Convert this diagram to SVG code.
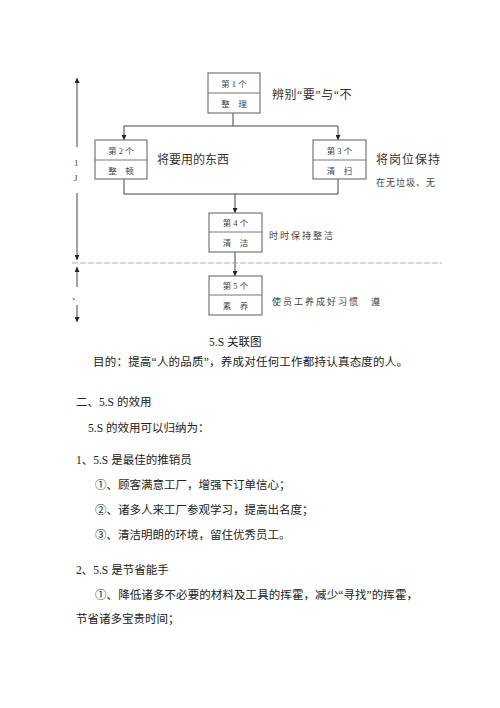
<svg xmlns="http://www.w3.org/2000/svg" width="500" height="708" viewBox="0 0 500 708">
<style>
.box{fill:#fff;stroke:#777;stroke-width:1.2}
.div{stroke:#777;stroke-width:1}
.ln{stroke:#444;stroke-width:1;fill:none}
.bt{font-family:"Liberation Serif","Noto Sans CJK SC",serif;font-size:8.5px;fill:#444;text-anchor:middle}
.lb{font-family:"Liberation Serif","Noto Sans CJK SC",serif;font-size:12px;fill:#333}
.sm{font-family:"Liberation Serif","Noto Sans CJK SC",serif;font-size:9px;fill:#444}
.tx{font-family:"Liberation Serif","Noto Sans CJK SC",serif;font-size:11.5px;fill:#222}
</style>
<defs>
<marker id="ah" viewBox="0 0 10 10" refX="10" refY="5" markerWidth="5" markerHeight="5" orient="auto" markerUnits="userSpaceOnUse">
<path d="M0,0 L10,5 L0,10 z" fill="#222"/>
</marker>
</defs>
<rect width="500" height="708" fill="#fff"/>
<g id="connectors">
<path class="ln" d="M233,113 V126 M124,126 H338"/>
<path class="ln" d="M124,126 V140" marker-end="url(#ah)"/>
<path class="ln" d="M338,126 V140" marker-end="url(#ah)"/>
<path class="ln" d="M124,179 V194 H338 V179"/>
<path class="ln" d="M235,194 V213" marker-end="url(#ah)"/>
<path class="ln" d="M235,252 V276" marker-end="url(#ah)"/>
<path class="ln" d="M77,147 V78" marker-end="url(#ah)"/>
<path class="ln" d="M77,193 V260" marker-end="url(#ah)"/>
<path class="ln" d="M77,287 V267" marker-end="url(#ah)"/>
<path class="ln" d="M77,305 V322" marker-end="url(#ah)"/>
<line x1="72" y1="263" x2="442" y2="263" stroke="#999" stroke-width="0.8" stroke-dasharray="6,2"/>
</g>
<g id="axis-labels">
<text class="sm" x="74" y="166">1</text>
<text class="sm" x="74" y="181">J</text>
<text class="sm" x="72" y="300">、</text>
</g>
<g id="node1">
<rect class="box" x="208" y="73" width="52" height="40"/>
<line class="div" x1="208" y1="93" x2="260" y2="93"/>
<text class="bt" x="234" y="87">第 1 个</text>
<text class="bt" x="234" y="107">整　理</text>
<text class="lb" x="272" y="99" letter-spacing="0.5">辨别“要”与“不</text>
</g>
<g id="node2">
<rect class="box" x="95" y="140" width="52" height="39"/>
<line class="div" x1="95" y1="160" x2="147" y2="160"/>
<text class="bt" x="121" y="154">第 2 个</text>
<text class="bt" x="121" y="174">整　顿</text>
<text class="lb" x="157" y="164">将要用的东西</text>
</g>
<g id="node3">
<rect class="box" x="313" y="140" width="53" height="39"/>
<line class="div" x1="313" y1="160" x2="366" y2="160"/>
<text class="bt" x="339.5" y="154">第 3 个</text>
<text class="bt" x="339.5" y="174">清　扫</text>
<text class="lb" x="376" y="164" letter-spacing="1">将岗位保持</text>
<text class="sm" x="376" y="186" letter-spacing="1">在无垃圾、无</text>
</g>
<g id="node4">
<rect class="box" x="209" y="213" width="53" height="39"/>
<line class="div" x1="209" y1="232" x2="262" y2="232"/>
<text class="bt" x="235.5" y="226">第 4 个</text>
<text class="bt" x="235.5" y="246">清　洁</text>
<text class="sm" x="269" y="239" letter-spacing="2">时时保持整洁</text>
</g>
<g id="node5">
<rect class="box" x="209" y="276" width="53" height="39"/>
<line class="div" x1="209" y1="295" x2="262" y2="295"/>
<text class="bt" x="235.5" y="289">第 5 个</text>
<text class="bt" x="235.5" y="309">素　养</text>
<text class="sm" x="272" y="305" letter-spacing="2">使员工养成好习惯　遵</text>
</g>
<g id="body">
<text class="tx" x="209" y="346">5.S 关联图</text>
<text class="tx" x="93" y="366" textLength="315">目的：提高“人的品质”，养成对任何工作都持认真态度的人。</text>
<text class="tx" x="76" y="406">二、5.S 的效用</text>
<text class="tx" x="88" y="432">5.S 的效用可以归纳为：</text>
<text class="tx" x="76" y="464">1、5.S 是最佳的推销员</text>
<text class="tx" x="95" y="489">①、顾客满意工厂，增强下订单信心；</text>
<text class="tx" x="95" y="514">②、诸多人来工厂参观学习，提高出名度；</text>
<text class="tx" x="95" y="539">③、清洁明朗的环境，留住优秀员工。</text>
<text class="tx" x="76" y="574">2、5.S 是节省能手</text>
<text class="tx" x="95" y="599" textLength="323">①、降低诸多不必要的材料及工具的挥霍，减少“寻找”的挥霍，</text>
<text class="tx" x="76" y="623">节省诸多宝贵时间；</text>
</g>
</svg>
